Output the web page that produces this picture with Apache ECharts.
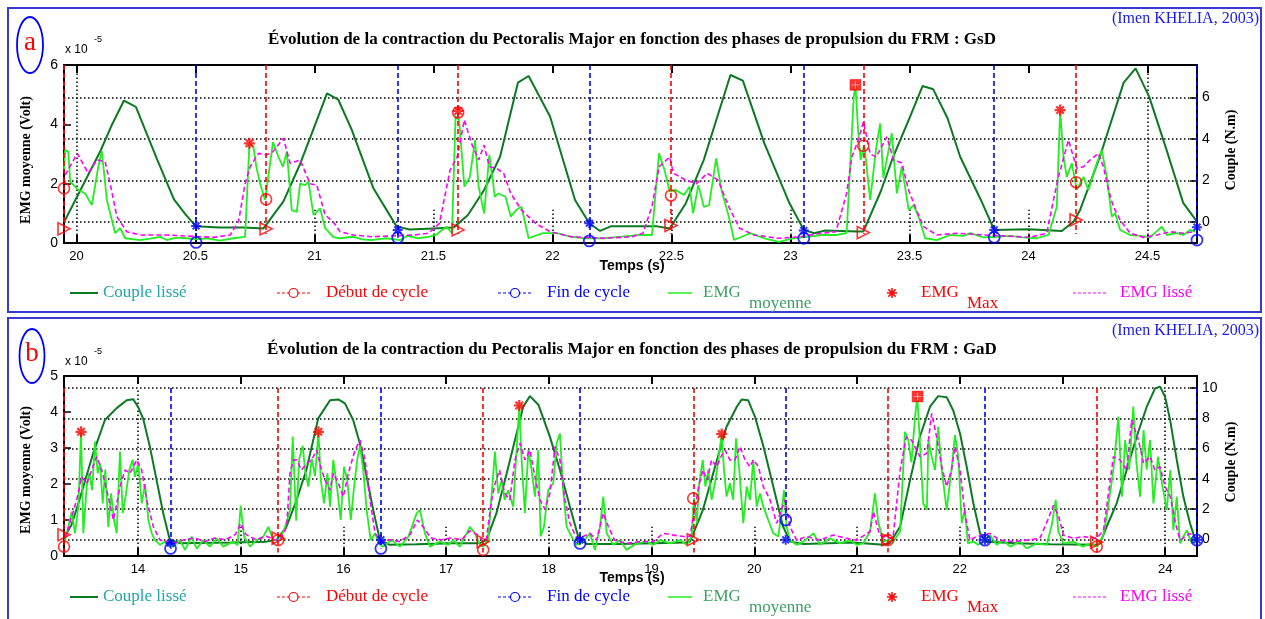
<!DOCTYPE html>
<html><head><meta charset="utf-8">
<script src="https://cdn.jsdelivr.net/npm/echarts@6/dist/echarts.min.js"></script>
<style>html,body{margin:0;padding:0;background:#fff;}#c{width:1265px;height:619px;}</style>
</head><body><div id="c"></div>
<script>
// ---------------- DATA : panel a (GsD) ----------------
const xTicksA = [20, 20.5, 21, 21.5, 22, 22.5, 23, 23.5, 24, 24.5];
const emgTicksA = [0, 2, 4, 6];
const coupleTicksA = [0, 2, 4, 6];
const gridFullA = [20, 24.5];
const gridShortA = [20.5, 21, 21.5, 22, 22.5, 23, 23.5, 24];

const coupleA = [[19.948,0.0],[20.1,3.4],[20.15,4.7],[20.2,5.85],[20.25,5.55],[20.34,3.0],[20.41,1.1],[20.46,0.35],[20.503,-0.2],[20.6,-0.25],[20.7,-0.25],[20.786,-0.3],[20.87,1.0],[20.94,2.8],[21.0,4.6],[21.053,6.2],[21.1,5.9],[21.157,4.44],[21.248,1.63],[21.345,-0.2],[21.4,-0.35],[21.5,-0.3],[21.585,-0.26],[21.645,0.35],[21.713,1.55],[21.78,3.15],[21.855,6.71],[21.9,7.03],[21.99,5.08],[22.095,1.07],[22.155,-0.05],[22.2,-0.42],[22.245,-0.2],[22.44,-0.2],[22.493,-0.3],[22.56,0.9],[22.636,3.0],[22.748,7.08],[22.8,6.81],[22.89,3.8],[22.996,0.91],[23.056,-0.37],[23.1,-0.53],[23.146,-0.4],[23.28,-0.45],[23.306,-0.45],[23.38,1.5],[23.43,3.1],[23.5,5.0],[23.555,6.55],[23.6,6.39],[23.66,5.0],[23.713,3.15],[23.8,1.07],[23.856,-0.37],[24.0,-0.34],[24.14,-0.42],[24.19,0.03],[24.217,0.59],[24.3,3.15],[24.4,6.71],[24.45,7.4],[24.507,6.04],[24.58,3.48],[24.65,0.93],[24.708,0.03]];

const emgA = [[19.948,2.5],[19.953,3.13],[19.966,3.08],[19.974,2.07],[20.008,1.79],[20.037,1.67],[20.065,1.28],[20.092,2.57],[20.107,3.1],[20.128,1.45],[20.163,0.33],[20.184,0.5],[20.205,0.16],[20.268,0.1],[20.31,0.15],[20.352,0.21],[20.38,0.1],[20.42,0.18],[20.464,0.16],[20.5,0.12],[20.548,0.16],[20.604,0.08],[20.66,0.16],[20.709,0.21],[20.727,3.36],[20.744,3.25],[20.756,2.57],[20.772,2.0],[20.793,1.45],[20.826,3.4],[20.849,2.9],[20.868,2.57],[20.884,3.08],[20.905,1.11],[20.926,1.05],[20.94,2.0],[20.961,1.95],[20.975,2.07],[20.996,0.95],[21.024,1.17],[21.045,0.5],[21.059,0.38],[21.08,0.2],[21.105,0.16],[21.165,0.21],[21.2,0.12],[21.24,0.1],[21.3,0.16],[21.36,0.1],[21.39,0.24],[21.435,0.16],[21.48,0.21],[21.51,0.27],[21.555,0.55],[21.578,0.33],[21.593,4.26],[21.608,4.15],[21.63,1.9],[21.653,2.23],[21.675,3.47],[21.69,1.9],[21.713,1.0],[21.735,2.97],[21.758,1.56],[21.773,1.67],[21.803,1.56],[21.825,0.89],[21.848,1.11],[21.87,1.22],[21.9,0.16],[21.96,0.33],[22.02,0.33],[22.079,0.21],[22.14,0.16],[22.216,0.16],[22.29,0.21],[22.366,0.27],[22.418,0.27],[22.448,3.02],[22.471,2.46],[22.493,1.73],[22.516,1.79],[22.553,1.62],[22.576,1.9],[22.591,1.0],[22.613,1.95],[22.636,1.22],[22.658,1.28],[22.688,2.85],[22.71,1.79],[22.741,0.89],[22.763,0.1],[22.831,0.33],[22.891,0.16],[22.951,0.04],[23.011,0.16],[23.07,0.21],[23.131,0.27],[23.191,0.27],[23.236,0.33],[23.266,4.93],[23.273,5.33],[23.285,3.7],[23.295,2.8],[23.31,3.3],[23.335,1.45],[23.36,3.2],[23.377,4.03],[23.39,2.2],[23.426,3.7],[23.447,1.67],[23.468,2.57],[23.497,1.11],[23.517,1.28],[23.538,0.89],[23.566,0.16],[23.615,0.1],[23.671,0.27],[23.727,0.24],[23.755,0.33],[23.811,0.19],[23.867,0.21],[23.923,0.24],[23.978,0.19],[24.035,0.16],[24.084,0.27],[24.119,1.22],[24.133,4.48],[24.147,2.9],[24.161,2.23],[24.182,2.69],[24.203,1.79],[24.231,2.23],[24.252,1.79],[24.287,2.69],[24.308,3.13],[24.329,2.23],[24.35,0.89],[24.364,1.0],[24.385,0.44],[24.427,0.27],[24.469,0.24],[24.511,0.19],[24.56,0.55],[24.582,0.27],[24.624,0.33],[24.651,0.27],[24.679,0.44],[24.7,0.38]];

const emgLisseA = [[19.953,2.29],[20.004,3.02],[20.05,2.35],[20.086,2.8],[20.121,2.74],[20.142,2.0],[20.17,0.89],[20.212,0.38],[20.268,0.27],[20.38,0.27],[20.576,0.19],[20.646,0.27],[20.681,0.72],[20.709,2.0],[20.73,2.57],[20.765,3.02],[20.8,2.97],[20.826,3.08],[20.87,3.53],[20.898,2.69],[20.94,2.8],[20.982,2.0],[21.01,1.95],[21.045,0.95],[21.08,0.7],[21.108,0.38],[21.164,0.27],[21.24,0.21],[21.42,0.27],[21.48,0.33],[21.525,0.66],[21.57,2.46],[21.6,2.9],[21.63,4.15],[21.66,3.36],[21.69,2.8],[21.713,3.3],[21.735,2.57],[21.765,2.52],[21.795,2.35],[21.825,1.67],[21.87,1.11],[21.93,0.66],[21.99,0.38],[22.08,0.21],[22.216,0.16],[22.335,0.21],[22.38,0.33],[22.418,1.22],[22.448,2.57],[22.493,2.9],[22.508,2.35],[22.56,2.12],[22.605,2.0],[22.65,2.35],[22.696,2.12],[22.741,1.22],[22.786,0.5],[22.846,0.27],[22.951,0.16],[23.04,0.21],[23.131,0.33],[23.191,0.38],[23.236,1.67],[23.258,2.9],[23.28,3.36],[23.307,4.09],[23.335,3.0],[23.36,2.9],[23.405,3.58],[23.433,2.8],[23.468,2.7],[23.496,1.79],[23.524,1.22],[23.559,0.55],[23.615,0.27],[23.7,0.33],[23.811,0.27],[23.895,0.24],[24.007,0.19],[24.077,0.33],[24.105,1.45],[24.126,2.23],[24.168,3.47],[24.203,2.52],[24.231,2.57],[24.259,2.8],[24.294,3.02],[24.315,2.57],[24.336,1.79],[24.357,1.22],[24.385,0.78],[24.427,0.33],[24.483,0.19],[24.54,0.27],[24.595,0.38],[24.651,0.33],[24.693,0.38]];

const debutTA = [19.948, 20.797, 21.604, 22.498, 23.306, 24.2];
const debutEmgA = [1.84, 1.47, 4.4, 1.6, 3.28, 2.05];
const debutCoupleA = [-0.32, -0.32, -0.37, -0.16, -0.5, 0.11];
const finTA = [20.503, 21.35, 22.155, 23.056, 23.856, 24.708];
const finEmgA = [0.02, 0.18, 0.07, 0.16, 0.19, 0.1];
const finCoupleA = [-0.18, -0.37, -0.05, -0.4, -0.37, -0.24];
const emgMaxA = [[20.727, 3.36], [21.604, 4.45], [24.133, 4.48]];
const emgMaxBoxA = [[23.273, 5.33]];

// ---------------- DATA : panel b (GaD) ----------------
const xTicksB = [14, 15, 16, 17, 18, 19, 20, 21, 22, 23, 24];
const emgTicksB = [0, 1, 2, 3, 4, 5];
const coupleTicksB = [0, 2, 4, 6, 8, 10];
const gridFullB = [14, 24];
const gridShortB = [15, 16, 17, 18, 19, 20, 21, 22, 23];

const coupleB = [[13.288,0.18],[13.353,0.96],[13.43,2.6],[13.564,5.69],[13.678,7.89],[13.79,8.66],[13.89,9.2],[13.953,9.27],[14.0,8.77],[14.05,8.0],[14.116,6.13],[14.181,3.93],[14.246,1.73],[14.31,-0.03],[14.408,-0.25],[14.927,-0.21],[15.25,-0.15],[15.35,-0.03],[15.447,0.85],[15.544,2.6],[15.64,4.6],[15.755,8.0],[15.87,9.2],[15.95,9.25],[16.015,8.99],[16.095,7.89],[16.16,6.35],[16.226,4.15],[16.29,1.95],[16.355,-0.03],[16.45,-0.36],[16.71,-0.32],[17.07,-0.25],[17.33,-0.25],[17.394,-0.03],[17.49,1.73],[17.59,4.37],[17.686,7.0],[17.75,8.77],[17.816,9.47],[17.9,8.88],[18.01,6.79],[18.108,4.59],[18.205,2.17],[18.286,0.18],[18.368,-0.3],[18.69,-0.3],[19.017,-0.25],[19.34,-0.21],[19.374,-0.15],[19.5,1.95],[19.6,4.37],[19.73,7.45],[19.83,8.77],[19.877,9.25],[19.94,9.2],[20.007,8.1],[20.09,6.13],[20.185,3.49],[20.28,0.85],[20.35,-0.15],[20.48,-0.3],[20.964,-0.21],[21.256,-0.36],[21.32,-0.25],[21.42,0.85],[21.516,3.9],[21.613,6.8],[21.711,8.77],[21.79,9.47],[21.873,9.4],[21.938,8.5],[22.003,7.0],[22.068,4.8],[22.132,2.4],[22.198,0.4],[22.263,-0.15],[22.555,-0.25],[22.88,-0.32],[23.334,-0.36],[23.366,-0.25],[23.431,0.85],[23.529,2.4],[23.626,4.6],[23.723,6.8],[23.821,8.77],[23.902,9.98],[23.95,10.1],[23.999,9.43],[24.048,7.9],[24.113,5.25],[24.177,2.83],[24.242,1.07],[24.291,0.0],[24.31,-0.03]];

const emgB = [[13.29,.44],[13.322,.81],[13.355,1.23],[13.387,.63],[13.42,1.37],[13.446,3.45],[13.468,.63],[13.501,1.93],[13.527,2.3],[13.553,1.83],[13.582,3.18],[13.608,2.3],[13.631,2.57],[13.657,1.46],[13.682,2.4],[13.711,.81],[13.738,1.74],[13.767,1.0],[13.793,.63],[13.825,2.9],[13.852,1.19],[13.884,1.74],[13.916,2.4],[13.949,2.67],[13.971,2.2],[14.003,2.57],[14.037,1.46],[14.069,2.0],[14.101,1.0],[14.134,.63],[14.166,.44],[14.215,.31],[14.263,.4],[14.312,.26],
[14.344,.26],[14.41,.44],[14.458,.17],[14.523,.54],[14.572,.2],[14.636,.44],[14.7,.26],[14.767,.49],[14.831,.26],[14.93,.4],[14.97,.3],[15.0,1.4],[15.033,.54],[15.091,.26],[15.156,.44],[15.22,.54],[15.27,.81],[15.318,.44],
[15.383,.44],[15.432,.81],[15.48,1.26],[15.507,3.32],[15.54,.98],[15.57,2.7],[15.604,3.06],[15.627,2.37],[15.659,1.93],[15.692,2.7],[15.724,2.22],[15.757,3.45],[15.78,2.11],[15.812,1.46],[15.844,2.3],[15.87,1.37],[15.902,2.67],[15.941,1.83],[15.974,1.0],[16.006,2.48],[16.038,2.11],[16.072,1.0],[16.104,1.93],[16.136,2.7],[16.162,3.06],[16.194,2.37],[16.227,1.26],[16.266,.44],[16.308,.63],[16.357,.31],
[16.389,.26],[16.47,.44],[16.55,.26],[16.633,.54],[16.714,1.19],[16.745,1.27],[16.794,.63],[16.842,.26],[16.94,.4],[17.02,.31],[17.07,.44],[17.134,.26],[17.232,.81],[17.28,.63],[17.33,.31],
[17.361,.26],[17.41,.44],[17.475,2.9],[17.507,1.74],[17.54,2.1],[17.57,1.56],[17.605,1.83],[17.653,1.37],[17.686,2.94],[17.712,4.15],[17.735,2.67],[17.767,1.19],[17.8,2.94],[17.832,2.39],[17.865,1.65],[17.897,2.94],[17.92,.54],[17.952,.81],[17.994,1.83],[18.043,2.02],[18.076,3.13],[18.108,3.4],[18.14,1.83],[18.173,.81],[18.222,.54],[18.27,.31],
[18.335,.4],[18.4,.63],[18.449,.17],[18.498,.81],[18.53,1.65],[18.563,.63],[18.627,.31],[18.692,.44],[18.757,.17],[18.855,.35],[18.952,.4],[19.017,.31],[19.082,.44],[19.18,.35],[19.277,.44],[19.342,.31],[19.39,.54],
[19.413,1.6],[19.44,.91],[19.464,2.02],[19.498,2.67],[19.524,1.93],[19.553,2.39],[19.585,1.56],[19.617,2.02],[19.65,2.67],[19.683,3.39],[19.705,2.39],[19.73,1.65],[19.763,2.02],[19.795,1.56],[19.822,3.27],[19.854,2.39],[19.893,.91],[19.926,1.93],[19.958,1.56],[19.99,2.67],[20.023,1.37],[20.056,1.74],[20.088,1.37],[20.136,1.0],[20.185,.63],[20.234,.54],[20.267,1.27],[20.289,1.83],[20.315,.81],[20.348,.44],
[20.413,.31],[20.478,.4],[20.575,.63],[20.64,.31],[20.737,.49],[20.834,.35],[20.932,.44],[20.997,.31],[21.06,.35],[21.127,.68],[21.175,1.74],[21.207,.95],[21.256,.4],
[21.3,.44],[21.354,.4],[21.42,.68],[21.467,3.45],[21.5,3.22],[21.53,2.6],[21.565,3.87],[21.587,4.43],[21.613,3.13],[21.645,1.46],[21.68,1.28],[21.695,3.22],[21.727,2.76],[21.76,2.39],[21.79,3.59],[21.825,2.39],[21.873,1.28],[21.92,2.39],[21.954,3.36],[21.986,2.76],[22.02,.91],[22.05,1.28],[22.08,.35],[22.132,.4],[22.18,.31],[22.23,.4],
[22.295,.58],[22.36,.31],[22.425,.44],[22.49,.26],[22.587,.4],[22.652,.21],[22.75,.35],[22.847,.31],[22.896,.86],[22.935,1.56],[22.96,.68],[23.01,.35],[23.106,.4],[23.2,.26],[23.27,.35],[23.34,.26],
[23.398,.58],[23.43,1.09],[23.496,2.39],[23.545,3.87],[23.58,1.65],[23.61,3.22],[23.65,2.4],[23.69,4.15],[23.72,2.6],[23.756,1.65],[23.79,3.5],[23.82,2.4],[23.853,3.22],[23.886,1.46],[23.93,2.76],[23.97,2.0],[24.016,1.28],[24.05,2.39],[24.08,.72],[24.113,1.65],[24.145,.35],[24.21,.72],[24.26,.35],[24.29,.49]];

const emgLisseB = [[13.29,.49],[13.355,1.09],[13.404,1.56],[13.452,2.2],[13.501,2.02],[13.55,2.39],[13.598,2.76],[13.647,2.39],[13.696,1.83],[13.761,1.0],[13.826,1.93],[13.874,2.39],[13.923,2.3],[13.988,2.67],[14.036,2.39],[14.085,1.56],[14.15,.81],[14.215,.44],[14.344,.35],[14.45,.45],[14.55,.5],[14.65,.4],[14.75,.5],[14.85,.45],[14.95,.6],[15.0,.9],[15.05,.6],[15.15,.45],[15.25,.55],[15.33,.45],[15.383,.44],[15.448,.81],[15.48,2.3],[15.513,2.67],[15.545,2.67],[15.594,2.39],[15.643,2.57],[15.691,2.67],[15.74,2.94],[15.779,2.48],[15.821,2.11],[15.87,1.83],[15.902,2.3],[15.951,2.02],[16.0,1.65],[16.048,2.3],[16.113,2.94],[16.162,3.22],[16.211,2.67],[16.259,1.56],[16.308,.63],[16.373,.4],[16.45,.45],[16.55,.4],[16.65,.6],[16.72,1.0],[16.78,.8],[16.85,.5],[16.95,.45],[17.05,.5],[17.15,.45],[17.23,.7],[17.3,.6],[17.36,.4],[17.39,.44],[17.44,1.5],[17.475,2.0],[17.52,2.39],[17.57,1.74],[17.62,1.56],[17.67,2.67],[17.72,3.13],[17.767,2.67],[17.816,2.94],[17.865,2.2],[17.913,1.56],[17.962,1.3],[18.01,1.74],[18.06,3.04],[18.108,2.67],[18.157,1.56],[18.205,.91],[18.27,.49],[18.335,.54],[18.4,.63],[18.465,.44],[18.53,1.19],[18.58,.81],[18.64,.44],[18.757,.35],[18.887,.4],[19.017,.4],[19.114,.63],[19.212,.58],[19.31,.54],[19.374,.54],[19.425,1.37],[19.458,1.93],[19.5,2.39],[19.54,2.11],[19.585,2.67],[19.635,2.48],[19.683,2.8],[19.716,2.94],[19.763,2.67],[19.812,2.67],[19.861,3.04],[19.91,2.67],[19.958,2.48],[19.99,2.67],[20.04,2.48],[20.088,1.93],[20.153,1.56],[20.218,.91],[20.267,1.3],[20.3,1.56],[20.348,.81],[20.413,.44],[20.51,.54],[20.64,.44],[20.77,.58],[20.9,.49],[21.0,.44],[21.127,.68],[21.16,1.23],[21.22,.58],[21.3,.5],[21.35,.5],[21.42,2.39],[21.48,3.31],[21.53,3.22],[21.613,2.76],[21.68,2.85],[21.727,3.96],[21.775,3.31],[21.825,2.48],[21.873,1.93],[21.92,2.39],[21.954,3.04],[22.003,2.39],[22.05,1.19],[22.1,.44],[22.165,.54],[22.23,.58],[22.295,.63],[22.39,.44],[22.52,.4],[22.652,.44],[22.78,.49],[22.863,1.04],[22.912,1.41],[22.96,1.13],[23.01,.58],[23.106,.49],[23.2,.54],[23.334,.49],[23.4,.72],[23.496,2.76],[23.56,2.67],[23.626,2.39],[23.674,3.78],[23.74,3.22],[23.79,2.57],[23.853,2.76],[23.9,2.39],[23.95,2.48],[24.0,1.93],[24.05,1.65],[24.1,.91],[24.145,.44],[24.24,.63],[24.29,.54]];

const debutTB = [13.28, 15.365, 17.361, 19.406, 21.3, 23.334];
const debutEmgB = [0.26, 0.44, 0.17, 1.6, 0.44, 0.26];
const debutCoupleB = [0.3, 0.08, -0.15, -0.03, -0.03, -0.19];
const finTB = [14.317, 16.365, 18.303, 20.306, 22.246, 24.31];
const finEmgB = [0.21, 0.21, 0.35, 1.0, 0.44, 0.44];
const finCoupleB = [-0.25, -0.03, -0.03, -0.03, -0.03, -0.03];
const emgMaxB = [[13.446, 3.45], [15.757, 3.45], [17.712, 4.18], [19.683, 3.39]];
const emgMaxBoxB = [[21.59, 4.43]];

// ---------------- texts ----------------
const titleA = 'Évolution de la contraction du Pectoralis Major en fonction des phases de propulsion du FRM : GsD';
const titleB = 'Évolution de la contraction du Pectoralis Major en fonction des phases de propulsion du FRM : GaD';
const sourceText = '(Imen KHELIA, 2003)';

// ---------------- styles / layout ----------------
const SERIF = '"Liberation Serif", "Times New Roman", serif';
const SANS = '"Liberation Sans", Arial, sans-serif';
const C_COUPLE = '#0b7a22', C_EMG = '#22ee22', C_LISSE = '#ff00ff', C_RED = '#ff0000', C_BLUE = '#0000ff';
const STAR = 'path://M0,5L10,5M5,0L5,10M1.6,1.6L8.4,8.4M8.4,1.6L1.6,8.4';
const PLUS = 'path://M0,5L10,5M5,0L5,10';

const panels = [
  { grid: {left: 64, top: 65, width: 1133, height: 178}, x: [19.948, 24.708], xTicks: xTicksA,
    emgAx: [0, 6, 2], coupleAx: [-1, 7.56], coupleTicks: coupleTicksA, emgTicks: emgTicksA,
    gridFull: gridFullA, gridShort: gridShortA, fullTop: 7.56, shortTop: 0.6,
    couple: coupleA, emg: emgA, lisse: emgLisseA,
    debutT: debutTA, debutEmg: debutEmgA, debutCouple: debutCoupleA,
    finT: finTA, finEmg: finEmgA, finCouple: finCoupleA, emgMax: emgMaxA, emgMaxBox: emgMaxBoxA,
    cycTop: 6, redBottom: 0.3,
    frame: [8, 8, 1253, 304], title: titleA, titleY: 40, srcY: 19, letter: 'a', ell: [30, 45, 13, 28],
    x10Y: 50, tempsY: 266, legY: 293, emgNameY: 160, coupleNameY: 150 },
  { grid: {left: 64, top: 376, width: 1133, height: 180}, x: [13.28, 24.31], xTicks: xTicksB,
    emgAx: [0, 5, 1], coupleAx: [-1.1, 10.8], coupleTicks: coupleTicksB, emgTicks: emgTicksB,
    gridFull: gridFullB, gridShort: gridShortB, fullTop: 10, shortTop: 0.83,
    couple: coupleB, emg: emgB, lisse: emgLisseB,
    debutT: debutTB, debutEmg: debutEmgB, debutCouple: debutCoupleB,
    finT: finTB, finEmg: finEmgB, finCouple: finCoupleB, emgMax: emgMaxB, emgMaxBox: emgMaxBoxB,
    cycTop: 4.67, redBottom: 0.1,
    frame: [8, 318, 1253, 310], title: titleB, titleY: 350, srcY: 331, letter: 'b', ell: [32, 356, 12.5, 27],
    x10Y: 362, tempsY: 578, legY: 597, emgNameY: 470, coupleNameY: 462 }
];

const xAxis = [], yAxis = [], grid = [], series = [], graphic = [];
const axisLineStyle = {show: true, lineStyle: {color: '#000', width: 2}};
const dotted = {color: '#000', width: 1.5, type: [1.5, 2.5]};

function txt(x, y, text, font, fill, align, extra) {
  return Object.assign({type: 'text', x: x, y: y, z: 100,
    style: {text: text, font: font, fill: fill, align: align || 'left', verticalAlign: 'middle',
            textAlign: align || 'left', textVerticalAlign: 'middle'}}, extra || {});
}
function starEl(cx, cy, r, color, w) {
  const d = r * 0.72;
  return [[-r,0,r,0],[0,-r,0,r],[-d,-d,d,d],[d,-d,-d,d]].map(s => ({type: 'line', z: 100,
    shape: {x1: cx + s[0], y1: cy + s[1], x2: cx + s[2], y2: cy + s[3]}, style: {stroke: color, lineWidth: w}}));
}

panels.forEach((p, i) => {
  grid.push(Object.assign({show: false, containLabel: false, outerBoundsMode: 'none'}, p.grid));
  const xb = 2 * i, yl = 2 * i, yr = 2 * i + 1;
  xAxis.push({type: 'value', gridIndex: i, position: 'bottom', min: p.x[0], max: p.x[1],
    axisLine: Object.assign({onZero: false}, axisLineStyle),
    axisTick: {show: true, inside: true, length: 8, lineStyle: {color: '#000', width: 2}, customValues: p.xTicks},
    axisLabel: {show: true, customValues: p.xTicks, fontFamily: SANS, fontSize: 13, color: '#000', margin: 7},
    splitLine: {show: false}});
  xAxis.push({type: 'value', gridIndex: i, position: 'top', min: p.x[0], max: p.x[1],
    axisLine: Object.assign({onZero: false}, axisLineStyle),
    axisTick: {show: true, inside: true, length: 8, lineStyle: {color: '#000', width: 2}, customValues: p.xTicks},
    axisLabel: {show: false}, splitLine: {show: false}});
  yAxis.push({type: 'value', gridIndex: i, position: 'left', min: p.emgAx[0], max: p.emgAx[1], interval: p.emgAx[2],
    axisLine: Object.assign({onZero: false}, axisLineStyle),
    axisTick: {show: true, inside: true, length: 7, lineStyle: {color: '#000', width: 1.5}},
    axisLabel: {fontFamily: SANS, fontSize: 14, color: '#000', margin: 6}, splitLine: {show: false}});
  yAxis.push({type: 'value', gridIndex: i, position: 'right', min: p.coupleAx[0], max: p.coupleAx[1],
    axisLine: Object.assign({onZero: false}, axisLineStyle),
    axisTick: {show: true, inside: true, length: 7, lineStyle: {color: '#000', width: 1.5}, customValues: p.coupleTicks},
    axisLabel: {customValues: p.coupleTicks, fontFamily: SANS, fontSize: 14, color: '#000', margin: 5},
    splitLine: {show: false}});

  const gridLines = [];
  p.coupleTicks.forEach(v => gridLines.push({yAxis: v}));
  p.gridFull.forEach(v => gridLines.push([{coord: [v, p.coupleAx[0]]}, {coord: [v, p.fullTop]}]));
  p.gridShort.forEach(v => gridLines.push([{coord: [v, p.coupleAx[0]]}, {coord: [v, p.shortTop]}]));

  series.push({name: 'Couple lissé', type: 'line', xAxisIndex: xb, yAxisIndex: yr, data: p.couple,
    showSymbol: false, symbol: 'none', z: 3, lineStyle: {color: C_COUPLE, width: 2}, emphasis: {disabled: true},
    markLine: {silent: true, z: 1, symbol: ['none', 'none'], label: {show: false}, lineStyle: dotted,
      emphasis: {disabled: true}, animation: false, data: gridLines}});
  series.push({name: 'EMG moyenne', type: 'line', xAxisIndex: xb, yAxisIndex: yl, data: p.emg,
    showSymbol: false, symbol: 'none', z: 3, lineStyle: {color: C_EMG, width: 1.8}, emphasis: {disabled: true}});
  series.push({name: 'EMG lissé', type: 'line', xAxisIndex: xb, yAxisIndex: yl, data: p.lisse,
    showSymbol: false, symbol: 'none', z: 4, lineStyle: {color: C_LISSE, width: 1.6, type: [5, 3]}, emphasis: {disabled: true}});

  // Début de cycle
  series.push({name: 'Début de cycle', type: 'scatter', xAxisIndex: xb, yAxisIndex: yl, clip: false, z: 7,
    data: p.debutT.map((t, k) => [t, p.debutEmg[k]]), symbol: 'circle', symbolSize: 11,
    itemStyle: {color: 'rgba(255,255,255,0)', borderColor: C_RED, borderWidth: 1.6}, emphasis: {disabled: true},
    markLine: {silent: true, z: 5, symbol: ['none', 'none'], label: {show: false}, animation: false,
      lineStyle: {color: C_RED, width: 1.6, type: [5, 3]}, emphasis: {disabled: true},
      data: p.debutT.map(t => [{coord: [t, p.cycTop]}, {coord: [t, p.redBottom]}])}});
  series.push({name: 'Début couple', type: 'scatter', xAxisIndex: xb, yAxisIndex: yr, clip: false, z: 7,
    data: p.debutT.map((t, k) => [t, p.debutCouple[k]]), symbol: 'triangle', symbolRotate: -90, symbolSize: 12,
    itemStyle: {color: 'rgba(255,255,255,0)', borderColor: C_RED, borderWidth: 1.6}, emphasis: {disabled: true}});
  // Fin de cycle
  series.push({name: 'Fin de cycle', type: 'scatter', xAxisIndex: xb, yAxisIndex: yl, clip: false, z: 7,
    data: p.finT.map((t, k) => [t, p.finEmg[k]]), symbol: 'circle', symbolSize: 11,
    itemStyle: {color: 'rgba(255,255,255,0)', borderColor: C_BLUE, borderWidth: 1.8}, emphasis: {disabled: true},
    markLine: {silent: true, z: 5, symbol: ['none', 'none'], label: {show: false}, animation: false,
      lineStyle: {color: C_BLUE, width: 1.6, type: [5, 3]}, emphasis: {disabled: true},
      data: p.finT.map((t, k) => [{coord: [t, p.cycTop]}, {coord: [t, p.finEmg[k]]}])}});
  series.push({name: 'Fin couple', type: 'scatter', xAxisIndex: xb, yAxisIndex: yr, clip: false, z: 7,
    data: p.finT.map((t, k) => [t, p.finCouple[k]]), symbol: STAR, symbolSize: 10,
    itemStyle: {color: C_BLUE, borderColor: C_BLUE, borderWidth: 2}, emphasis: {disabled: true}});
  // EMG max
  series.push({name: 'EMG Max', type: 'scatter', xAxisIndex: xb, yAxisIndex: yl, clip: false, z: 8,
    data: p.emgMax, symbol: STAR, symbolSize: 11,
    itemStyle: {color: C_RED, borderColor: C_RED, borderWidth: 2.2}, emphasis: {disabled: true}});
  series.push({name: 'EMG Max box', type: 'scatter', xAxisIndex: xb, yAxisIndex: yl, clip: false, z: 8,
    data: p.emgMaxBox, symbol: 'rect', symbolSize: 11,
    itemStyle: {color: C_RED, borderColor: C_RED, borderWidth: 0.5}, emphasis: {disabled: true}});
  series.push({name: 'EMG Max box in', type: 'scatter', xAxisIndex: xb, yAxisIndex: yl, clip: false, z: 9,
    data: p.emgMaxBox, symbol: PLUS, symbolSize: 8,
    itemStyle: {color: '#ffb0b0', borderColor: '#ffb0b0', borderWidth: 1}, emphasis: {disabled: true}});

  // ----- decorations / texts -----
  const f = p.frame;
  graphic.push({type: 'rect', z: 90, shape: {x: f[0], y: f[1], width: f[2], height: f[3]},
    style: {fill: 'none', stroke: '#3a3ad0', lineWidth: 2}});
  graphic.push(txt(632, p.titleY, p.title, 'bold 17px ' + SERIF, '#000', 'center'));
  graphic.push(txt(1259, p.srcY, sourceText, '16px ' + SERIF, '#1a1aee', 'right'));
  graphic.push({type: 'ellipse', z: 100, shape: {cx: p.ell[0], cy: p.ell[1], rx: p.ell[2], ry: p.ell[3]},
    style: {fill: 'none', stroke: '#0000ff', lineWidth: 1.8}});
  graphic.push(txt(p.ell[0], p.ell[1] - 2, p.letter, '27px ' + SERIF, '#ff0000', 'center'));
  graphic.push(txt(65, p.x10Y, 'x 10', '12px ' + SANS, '#000', 'left'));
  graphic.push(txt(94, p.x10Y - 10, '-5', '9px ' + SANS, '#000', 'left'));
  graphic.push(txt(632, p.tempsY, 'Temps (s)', 'bold 14px ' + SANS, '#000', 'center'));
  graphic.push(txt(0, 0, 'EMG moyenne (Volt)', 'bold 14px ' + SERIF, '#000', 'center',
    {x: 26, y: p.emgNameY, rotation: Math.PI / 2}));
  graphic.push(txt(0, 0, 'Couple (N.m)', 'bold 14px ' + SERIF, '#000', 'center',
    {x: 1231, y: p.coupleNameY, rotation: Math.PI / 2}));

  // legend row
  const y = p.legY, LF = '17px ' + SERIF;
  graphic.push({type: 'line', z: 100, shape: {x1: 70, y1: y, x2: 98, y2: y}, style: {stroke: C_COUPLE, lineWidth: 2}});
  graphic.push(txt(103, y, 'Couple lissé', LF, '#22a6a6'));
  graphic.push({type: 'line', z: 100, shape: {x1: 277, y1: y, x2: 310, y2: y}, style: {stroke: C_RED, lineWidth: 1.2, lineDash: [3, 2]}});
  graphic.push({type: 'circle', z: 101, shape: {cx: 293.5, cy: y, r: 4.5}, style: {fill: '#fff', stroke: C_RED, lineWidth: 1.2}});
  graphic.push(txt(326, y, 'Début de cycle', LF, C_RED));
  graphic.push({type: 'line', z: 100, shape: {x1: 498, y1: y, x2: 532, y2: y}, style: {stroke: C_BLUE, lineWidth: 1.2, lineDash: [3, 2]}});
  graphic.push({type: 'circle', z: 101, shape: {cx: 515, cy: y, r: 4.5}, style: {fill: '#fff', stroke: C_BLUE, lineWidth: 1.2}});
  graphic.push(txt(547, y, 'Fin de cycle', LF, C_BLUE));
  graphic.push({type: 'line', z: 100, shape: {x1: 668, y1: y, x2: 692, y2: y}, style: {stroke: C_EMG, lineWidth: 1.5}});
  graphic.push(txt(703, y, 'EMG', LF, '#3c9f64'));
  graphic.push(txt(749, y + 11, 'moyenne', LF, '#3c9f64'));
  starEl(892, y, 5, C_RED, 1.5).forEach(e => graphic.push(e));
  graphic.push(txt(921, y, 'EMG', LF, C_RED));
  graphic.push(txt(967, y + 11, 'Max', LF, C_RED));
  graphic.push({type: 'line', z: 100, shape: {x1: 1073, y1: y, x2: 1107, y2: y}, style: {stroke: C_LISSE, lineWidth: 1.2, lineDash: [3, 2]}});
  graphic.push(txt(1120, y, 'EMG lissé', LF, C_LISSE));
});

const chart = echarts.init(document.getElementById('c'), null, {renderer: 'canvas', width: 1265, height: 619});
chart.setOption({
  animation: false,
  backgroundColor: '#fff',
  grid: grid, xAxis: xAxis, yAxis: yAxis, series: series,
  graphic: {elements: graphic}
});
</script>
</body></html>
